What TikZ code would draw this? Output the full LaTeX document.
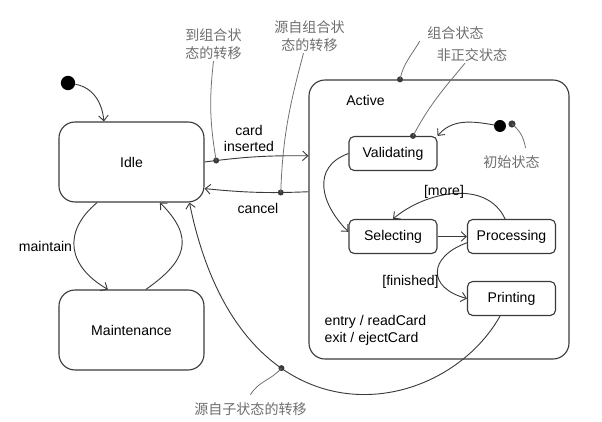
\documentclass[tikz,border=0pt]{standalone}
\usepackage{fontspec}
\setmainfont{Liberation Sans}
\newfontfamily\cjk{Noto Sans CJK SC}
\usetikzlibrary{arrows.meta,positioning}
\definecolor{ink}{HTML}{3A3A3A}
\definecolor{notegray}{HTML}{6E6E6E}
\tikzset{
  sm/.style={x=.25mm, y=.25mm, >={Straight Barb[length=1.3mm,width=2.4mm]},
             every node/.style={font=\fontsize{10}{12}\selectfont, inner sep=1pt}},
  big/.style={draw=ink, line width=.8pt, rounded corners=4mm, minimum width=36.25mm, minimum height=20mm},
  comp/.style={draw=ink, line width=.8pt, rounded corners=4mm, minimum width=65mm, minimum height=69.75mm},
  sub/.style={draw=ink, line width=.8pt, rounded corners=1.3mm, minimum width=22mm, minimum height=8.5mm},
  tr/.style={->, draw=ink, line width=.65pt},
  init/.style={circle, fill=black, inner sep=0pt, minimum size=3.6mm},
  pdot/.style={circle, fill=ink, inner sep=0pt, minimum size=1.5mm},
  note/.style={font=\cjk\fontsize{10}{12.8}\selectfont, text=notegray, align=center},
  lead/.style={draw=notegray, line width=.55pt}
}

\begin{document}
\begin{tikzpicture}[sm]
\useasboundingbox (0,0) rectangle (602,422);
\node[big] (idle) at (131.5,260) {Idle};
\node[big] (maint) at (131.5,92) {Maintenance};
\node[comp] (active) at (439,202.5) {};
\node (actname) at (365.5,322) {Active};
\node[sub] (valid) at (393,268.5) {Validating};
\node[sub] (select) at (393,185.5) {Selecting};
\node[sub] (proc) at (511.5,185.5) {Processing};
\node[sub] (print) at (511.5,123.5) {Printing};
\node[align=left, anchor=west] (acts) at (323,91.5) {entry / readCard\\exit / ejectCard};
\node[init] (start) at (68,339) {};
\node[init, minimum size=3mm] (substart) at (500,296) {};

\draw[tr] (start) to[out=-10,in=95] ([xshift=-6.9mm]idle.north);
\draw[tr] (idle.east) to[bend left=4] node[pdot,pos=.1] (d1) {} (active.154);
\draw[tr] (active.168.5) to[bend left=4] node[pdot,pos=.25] (d2) {} (idle.-20);
\draw[tr] ([xshift=-8.6mm]idle.south) to[out=220,in=150,looseness=1.35] ([xshift=-5.9mm]maint.north);
\draw[tr] ([xshift=3.6mm]maint.north) to[out=35,in=-45,looseness=1.45] ([xshift=7.1mm]idle.south);
\draw[tr] (substart) to[out=170,in=50] (valid.north east);
\draw[tr] (valid.west) to[out=200,in=135,looseness=1.3] (select.174);
\draw[tr] (select.east) -- (proc.west);
\draw[tr] ([xshift=-1.6mm]proc.north) to[out=115,in=40] (select.north);
\draw[tr] (proc.188) to[out=200,in=165,looseness=1.9] (print.west);
\draw[tr] (print.237.5) .. controls (440,0) and (240,-30) .. (idle.-35.3) node[pdot,pos=.66] (d6) {};

\node[align=center] (lcard) at (249,283.5) {card\\inserted};
\node (lcancel) at (258,214) {cancel};
\node (lmaint) at (45.5,176) {maintain};
\node (lmore) at (444,230) {[more]};
\node (lfin) at (410.5,140) {[finished]};

\node[note] (n1) at (213.5,378) {到组合状\\态的转移};
\node[note] (n2) at (309.5,386) {源自组合状\\态的转移};
\node[note] (n3) at (455.5,389) {组合状态};
\node[note] (n4) at (472,367) {非正交状态};
\node[note] (n5) at (511.5,260) {初始状态};
\node[note] (n6) at (250.5,13) {源自子状态的转移};
\node[pdot] (d3) at ([xshift=-9.75mm]active.north) {};
\node[pdot] (d4) at ([xshift=5mm]valid.north) {};
\node[pdot, minimum size=1.8mm] (d5) at (512,298) {};
\draw[lead] (n1.south) to[bend right=8] (d1.center);
\draw[lead] ([xshift=-1.5mm]n2.south) to[out=-105,in=88] (d2.center);
\draw[lead] ([xshift=-1.5mm]n3.south west) to[out=-120,in=78] (d3.center);
\draw[lead] ([xshift=-1.75mm]n4.south) to[out=-130,in=62] (d4.center);
\draw[lead] (d5.center) to[out=-40,in=100] ([xshift=3.5mm,yshift=1.5mm]n5.north);
\draw[lead] ([yshift=1.5mm]n6.north) to[out=60,in=230] (d6.center);
\end{tikzpicture}
\end{document}
